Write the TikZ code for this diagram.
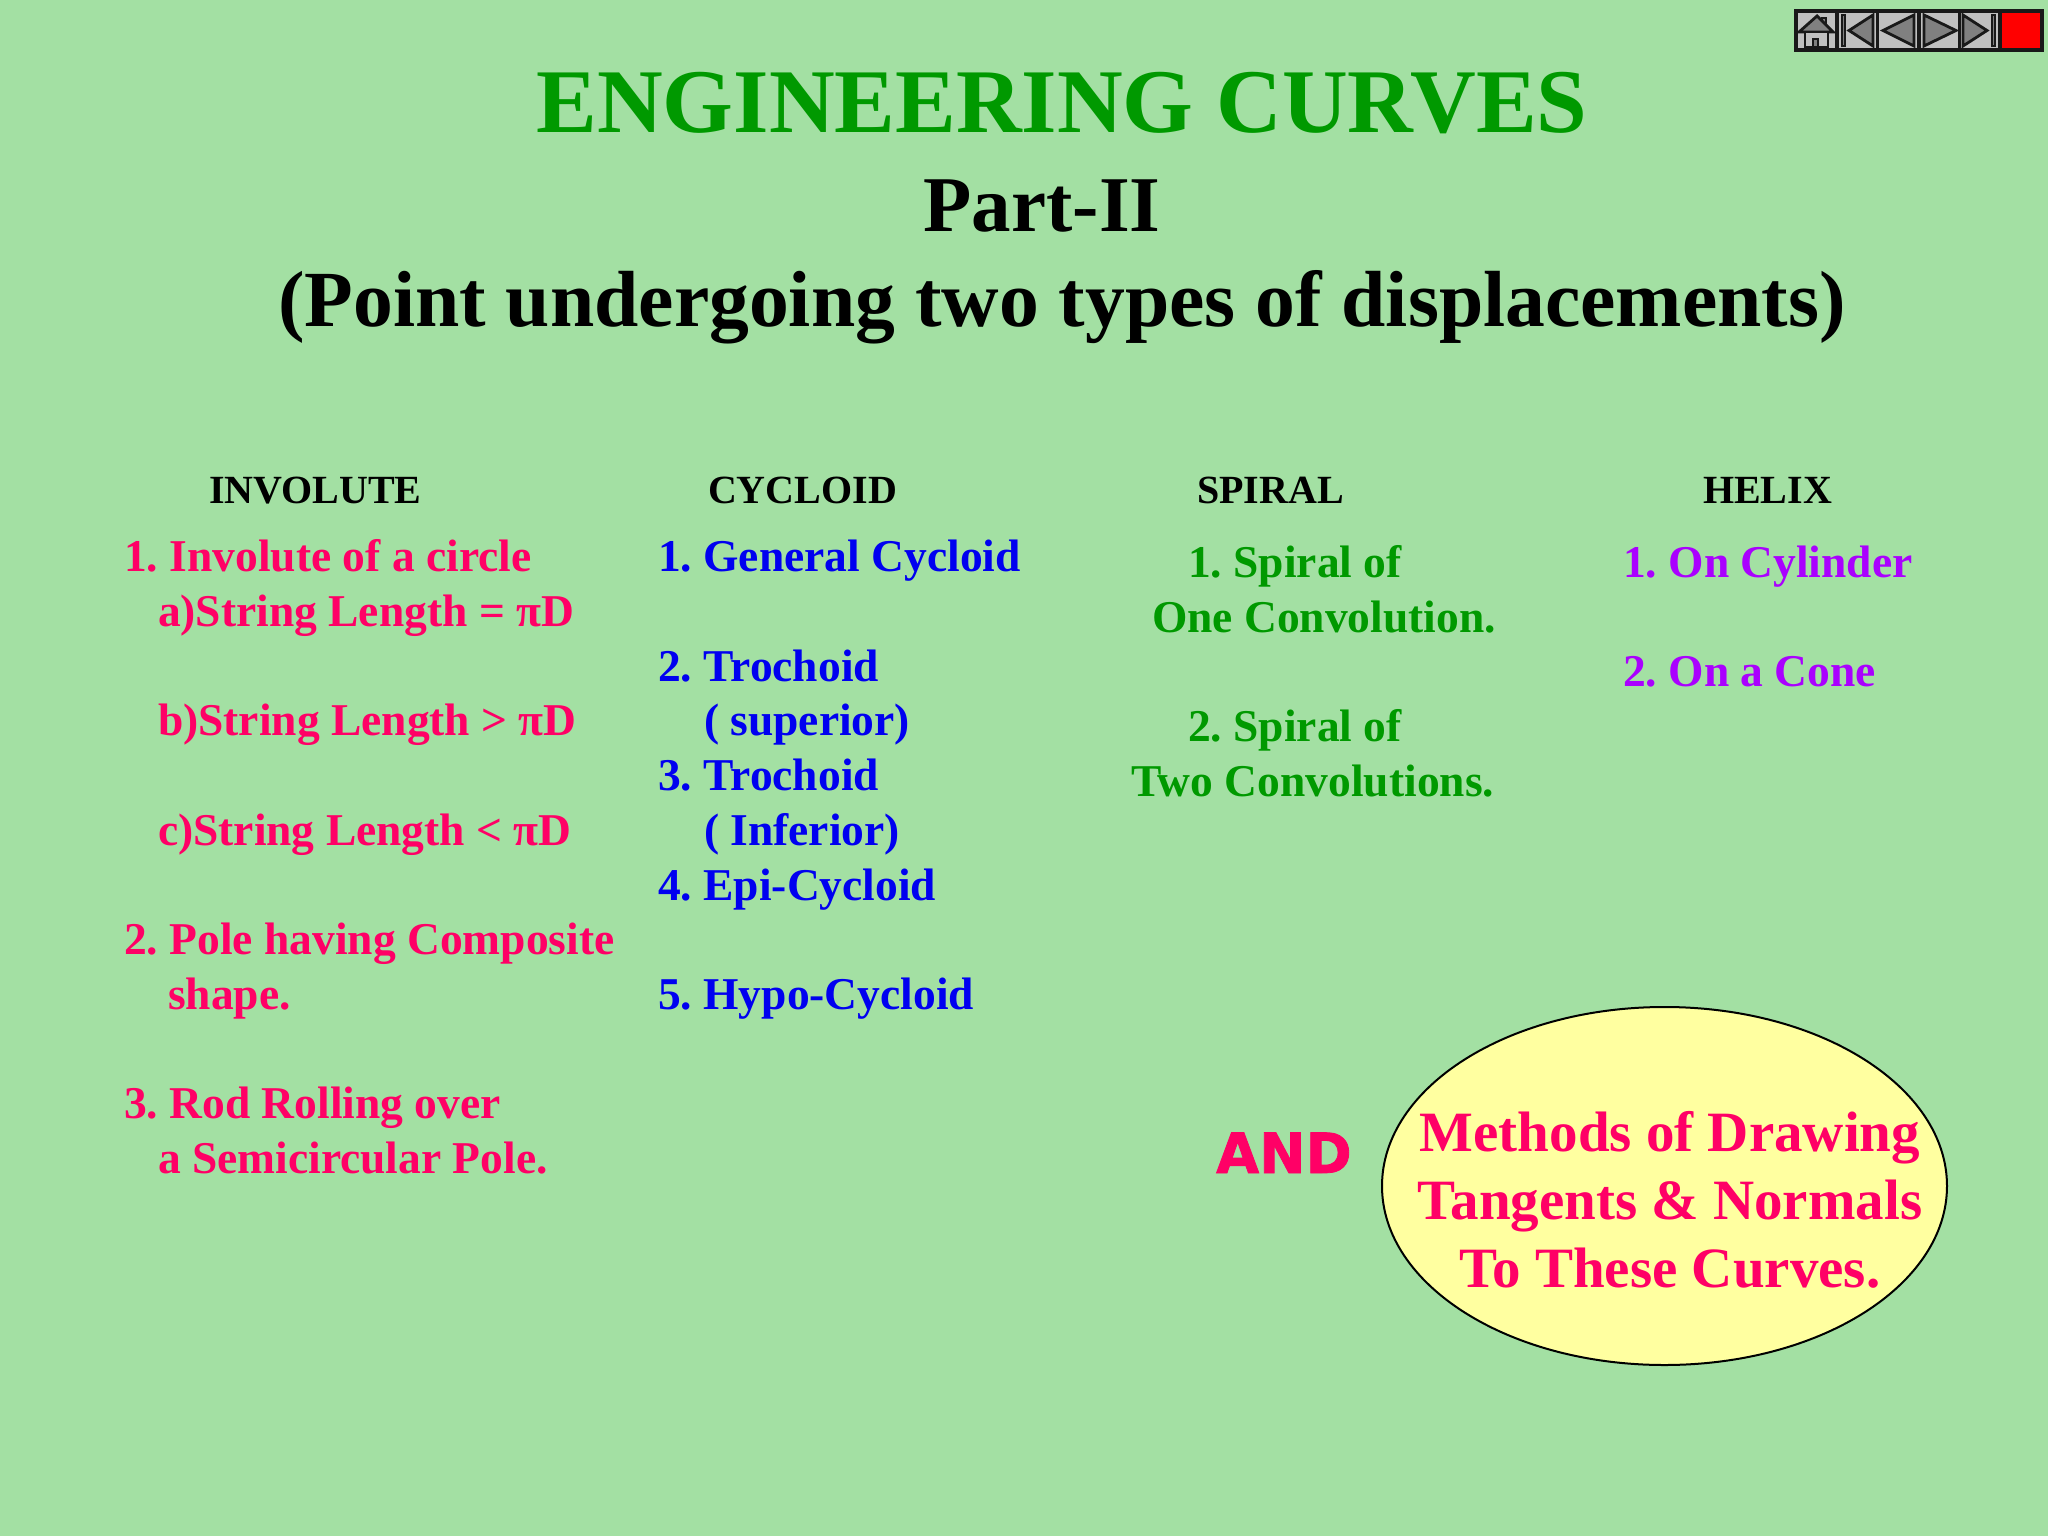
\documentclass[tikz,border=0pt]{standalone}
\usepackage{fontspec}
\setmainfont{Liberation Serif}
\newfontfamily\andfont[BoldFeatures={FakeBold=1.5}]{DejaVu Sans}
\definecolor{bg}{RGB}{163,224,163}
\definecolor{pinkc}{RGB}{255,0,102}
\definecolor{bluec}{RGB}{0,0,240}
\definecolor{greenc}{RGB}{0,153,0}
\definecolor{purplec}{RGB}{170,0,255}
\definecolor{ellc}{RGB}{255,255,160}
\definecolor{btn}{RGB}{192,192,192}
\definecolor{glyph}{RGB}{128,128,128}
\definecolor{dark}{RGB}{25,25,25}
\newcommand{\fs}[1]{\fontsize{#1}{#1}\selectfont\bfseries}
\newcommand{\nsp}{\hspace{11.5pt}}
\tikzset{
 txt/.style={anchor=base west,inner sep=0,outer sep=0,font=\fs{45.5}},
 head/.style={anchor=base west,inner sep=0,outer sep=0,font=\fs{40}},
 ctr/.style={anchor=base,inner sep=0,outer sep=0},
 pk/.style={txt,text=pinkc}, bl/.style={txt,text=bluec}, gr/.style={txt,text=greenc}, pu/.style={txt,text=purplec},
 btnbox/.style={draw=dark,line width=3.5pt,fill=btn},
 ico/.style={draw=dark,line width=2.8pt,fill=glyph,line join=miter}
}
\begin{document}
\begin{tikzpicture}[x=1pt,y=-1pt]
\useasboundingbox (0,0) rectangle (2048,1536);
\fill[bg] (0,0) rectangle (2048,1536);
% buttons
\draw[btnbox] (1796,11) rectangle (1837,50);
\draw[btnbox] (1837,11) rectangle (1877.5,50);
\draw[btnbox] (1877.5,11) rectangle (1919,50);
\draw[btnbox] (1919,11) rectangle (1959.5,50);
\draw[btnbox] (1959.5,11) rectangle (2000,50);
\draw[draw=dark,line width=3.5pt,fill=red] (2000,11) rectangle (2042,50);
\draw[ico] (1822,18) rectangle (1826,26);
\draw[ico] (1799,32) -- (1817,16) -- (1833,32) -- cycle;
\draw[ico,fill=btn] (1805,32) rectangle (1828,47);
\draw[ico,fill=glyph] (1813,39) rectangle (1818,47);
\draw[ico] (1842,15) rectangle (1845,46);
\draw[ico] (1873,15) -- (1849,30.5) -- (1873,46) -- cycle;
\draw[ico] (1914,15) -- (1883,30.5) -- (1914,46) -- cycle;
\draw[ico] (1924,15) -- (1956,30.5) -- (1924,46) -- cycle;
\draw[ico] (1963,15) -- (1987,30.5) -- (1963,46) -- cycle;
\draw[ico] (1992,15) rectangle (1995,46);
% titles
\node[ctr,font=\fs{91},text=greenc] (title) at (1062,132) {ENGINEERING CURVES};
\node[ctr,font=\fs{79},text=black] (part) at (1042,231) {Part-II};
\node[ctr,font=\fs{79.6},text=black] (sub) at (1062,326) {(Point undergoing two types of displacements)};
% headings
\node[head] (h1) at (209,503) {INVOLUTE};
\node[head] (h2) at (708,503) {CYCLOID};
\node[head] (h3) at (1197,503) {SPIRAL};
\node[head] (h4) at (1703,503) {HELIX};
% involute
\node[pk] (i1) at (124,571) {1.\nsp Involute of a circle};
\node[pk] (i2) at (158,626) {a)String Length = πD};
\node[pk] (i3) at (158,735) {b)String Length > πD};
\node[pk] (i4) at (158,845) {c)String Length < πD};
\node[pk] (i5) at (124,954) {2.\nsp Pole having Composite};
\node[pk] (i6) at (168,1009) {shape.};
\node[pk] (i7) at (124,1118) {3.\nsp Rod Rolling over};
\node[pk] (i8) at (158,1173) {a Semicircular Pole.};
% cycloid
\node[bl] (c1) at (658,571) {1.\nsp General Cycloid};
\node[bl] (c2) at (658,681) {2.\nsp Trochoid};
\node[bl] (c3) at (704,735) {( superior)};
\node[bl] (c4) at (658,790) {3.\nsp Trochoid};
\node[bl] (c5) at (704,845) {( Inferior)};
\node[bl] (c6) at (658,900) {4.\nsp Epi-Cycloid};
\node[bl] (c7) at (658,1009) {5.\nsp Hypo-Cycloid};
% spiral
\node[gr] (s1) at (1188,577) {1.\nsp Spiral of};
\node[gr] (s2) at (1152,632) {One Convolution.};
\node[gr] (s3) at (1188,741) {2.\nsp Spiral of};
\node[gr] (s4) at (1131,796) {Two Convolutions.};
% helix
\node[pu] (x1) at (1623,577) {1.\nsp On Cylinder};
\node[pu] (x2) at (1623,686) {2.\nsp On a Cone};
% ellipse
\draw[black,line width=2pt,fill=ellc] (1664.5,1186) ellipse [x radius=282.5,y radius=179];
\node[anchor=base west,inner sep=0,font=\andfont\fs{55.5},text=pinkc] (and) at (1216,1173) {AND};
\node[ctr,font=\fs{57},text=pinkc] (e1) at (1670,1151) {Methods of Drawing};
\node[ctr,font=\fs{57},text=pinkc] (e2) at (1670,1219) {Tangents \& Normals};
\node[ctr,font=\fs{57},text=pinkc] (e3) at (1670,1287) {To These Curves.};
\end{tikzpicture}
\end{document}
